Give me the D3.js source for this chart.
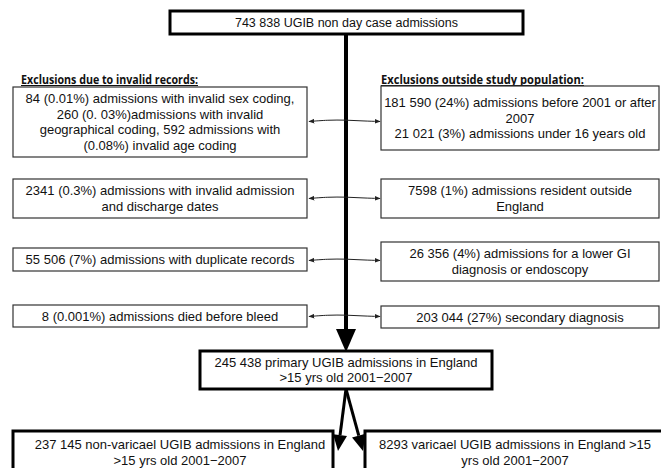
<!DOCTYPE html>
<html>
<head>
<meta charset="utf-8">
<script src="https://cdn.jsdelivr.net/npm/d3@7"></script>
<style>
  body { margin: 0; background: #fff; }
  svg text { font-family: "Liberation Sans", Arial, sans-serif; fill: #111; }
</style>
</head>
<body>
<div class="container"></div>
<script>
// Flow chart content
const totalText = "743 838 UGIB non day case admissions";
const leftHeading = "Exclusions due to invalid records:";
const rightHeading = "Exclusions outside study population:";

const leftExclusions = [
    ["84 (0.01%) admissions with invalid sex coding,", "260 (0. 03%)admissions with invalid", "geographical coding, 592 admissions with", "(0.08%) invalid age coding"],
    ["2341 (0.3%) admissions with invalid admission", "and discharge dates"],
    ["55 506 (7%) admissions with duplicate records"],
    ["8 (0.001%) admissions died before bleed"]
];
const rightExclusions = [
    ["181 590 (24%) admissions before 2001 or after", "2007", "21 021 (3%) admissions under 16 years old"],
    ["7598 (1%) admissions resident outside", "England"],
    ["26 356 (4%) admissions for a lower GI", "diagnosis or endoscopy"],
    ["203 044 (27%) secondary diagnosis"]
];
const studyText = ["245 438 primary UGIB admissions in England", ">15 yrs old 2001\u22122007"];
const splitTexts = [
    ["237 145 non-varicael UGIB admissions in England", ">15 yrs old 2001\u22122007"],
    ["8293 varicael UGIB admissions in England >15", "yrs old 2001\u22122007"]
];

const width = 661, height = 468;
const lineH = 15.5;
const mainX = 346;

// layout of the rows (top, bottom) for each side
const leftRows = [[87, 157], [179, 218], [248, 271], [305, 327]];
const rightRows = [[86, 150], [179, 218], [242, 281], [306, 328]];
const arrowRows = [121, 198, 260, 316];

const svg = d3.select(".container")
    .append("svg")
    .attr("width", width)
    .attr("height", height);

svg.append("rect").attr("width", width).attr("height", height).attr("fill", "#fff");

const defs = svg.append("defs");
defs.append("marker")
    .attr("id", "small")
    .attr("viewBox", "0 0 10 10")
    .attr("refX", 9).attr("refY", 5)
    .attr("markerWidth", 6).attr("markerHeight", 6)
    .attr("markerUnits", "userSpaceOnUse")
    .attr("orient", "auto-start-reverse")
    .append("path")
    .attr("d", "M0,1 L10,5 L0,9 Z")
    .attr("fill", "#222");

// draws a box with centred lines of text
function box(x0, y0, x1, y1, lines, stroke, cx, size) {
    const g = svg.append("g");
    g.append("rect")
        .attr("x", x0).attr("y", y0)
        .attr("width", x1 - x0).attr("height", y1 - y0)
        .attr("fill", "#fff")
        .attr("stroke", stroke > 2 ? "#000" : "#333")
        .attr("stroke-width", stroke);
    const mid = cx == null ? (x0 + x1) / 2 : cx;
    const cy = (y0 + y1) / 2;
    g.selectAll("text")
        .data(lines)
        .enter()
        .append("text")
        .attr("x", mid)
        .attr("y", (d, i) => cy + (i - (lines.length - 1) / 2) * lineH)
        .attr("dy", "0.35em")
        .attr("text-anchor", "middle")
        .attr("font-size", size || 13)
        .text(d => d);
    return g;
}

// main vertical line + arrowhead
svg.append("line")
    .attr("x1", mainX).attr("x2", mainX)
    .attr("y1", 34).attr("y2", 331)
    .attr("stroke", "#000").attr("stroke-width", 4);
svg.append("path")
    .attr("d", `M${mainX - 10},329 L${mainX + 10},329 L${mainX},352 Z`)
    .attr("fill", "#000");

// top box
box(170, 11, 523, 34, [totalText], 3, null, 12.5);

// headings
[[leftHeading, 21, 177], [rightHeading, 381, 203]].forEach(([t, x, w]) => {
    svg.append("text")
        .attr("x", x).attr("y", 83.5)
        .attr("font-size", 11.5)
        .attr("font-weight", "bold")
        .attr("textLength", w)
        .attr("lengthAdjust", "spacingAndGlyphs")
        .style("font-family", "'Open Sans', sans-serif")
        .text(t);
    svg.append("line")
        .attr("x1", x).attr("x2", x + w)
        .attr("y1", 85.5).attr("y2", 85.5)
        .attr("stroke", "#111").attr("stroke-width", 1);
});

// exclusion boxes
leftExclusions.forEach((lines, i) => box(13, leftRows[i][0], 307, leftRows[i][1], lines, 1.2));
rightExclusions.forEach((lines, i) => box(381, rightRows[i][0], 659, rightRows[i][1], lines, 1.2));

// double headed connectors
const connector = d3.line().curve(d3.curveBasis);
arrowRows.forEach(y => {
    svg.append("path")
        .attr("d", connector([[309, y + 0.5], [328, y - 1], [346, y - 1], [363, y], [380, y + 0.5]]))
        .attr("fill", "none")
        .attr("stroke", "#222")
        .attr("stroke-width", 1)
        .attr("marker-start", "url(#small)")
        .attr("marker-end", "url(#small)");
});

// study population box
box(200, 351, 492, 389, studyText, 3);

// split arrows
const splitEnds = [[338, 451], [363, 451]];
splitEnds.forEach(([ex, ey]) => {
    const sx = 346, sy = 389;
    const ang = Math.atan2(ey - sy, ex - sx);
    const hl = 16, hw = 7;
    const bx = ex - hl * Math.cos(ang), by = ey - hl * Math.sin(ang);
    svg.append("line")
        .attr("x1", sx).attr("y1", sy)
        .attr("x2", bx).attr("y2", by)
        .attr("stroke", "#000").attr("stroke-width", 3);
    const px = -Math.sin(ang) * hw, py = Math.cos(ang) * hw;
    svg.append("path")
        .attr("d", `M${bx + px},${by + py} L${bx - px},${by - py} L${ex},${ey} Z`)
        .attr("fill", "#000");
});

// bottom boxes (run off the bottom edge)
box(13, 431, 333, 474, splitTexts[0], 3, 180);
box(365, 431, 664, 474, splitTexts[1], 3, 515);
</script>
</body>
</html>
